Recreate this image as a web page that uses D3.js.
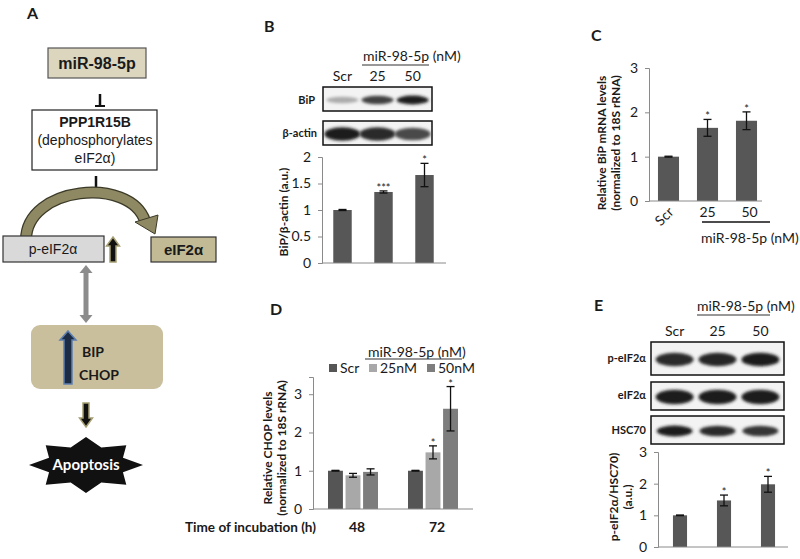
<!DOCTYPE html>
<html>
<head>
<meta charset="utf-8">
<script src="https://cdnjs.cloudflare.com/ajax/libs/d3/7.8.5/d3.min.js"></script>
<style>
  body { margin: 0; background: #fff; }
  svg { display: block; }
  text { font-family: Lato, "Open Sans", sans-serif; fill: #1a1a1a; }
  .arial { font-family: "Liberation Sans", Arial, sans-serif; }
</style>
</head>
<body>
<svg id="fig" width="800" height="559"></svg>
<script>
// ---- data ----
const doseLabels = ["Scr", "25", "50"];

// B: BiP protein / beta-actin
const bipProtein = [1.0, 1.34, 1.66];
const bipProteinErr = [0.01, 0.02, 0.22];
const bipProteinSig = ["", "***", "*"];
const bipProteinTicks = [0, 0.5, 1, 1.5, 2];

// C: BiP mRNA
const bipMrna = [1.0, 1.65, 1.81];
const bipMrnaErr = [0.01, 0.19, 0.20];
const bipMrnaSig = ["", "*", "*"];
const bipMrnaTicks = [0, 1, 2, 3];

// D: CHOP mRNA over time
const timePoints = ["48", "72"];
const chopSeries = ["Scr", "25nM", "50nM"];
const chop48 = [1.0, 0.88, 0.97];
const chop48Err = [0.01, 0.05, 0.08];
const chop48Sig = ["", "", ""];
const chop72 = [1.0, 1.48, 2.62];
const chop72Err = [0.01, 0.17, 0.58];
const chop72Sig = ["", "*", "*"];
const chopTicks = [0, 1, 2, 3];

// E: p-eIF2a / HSC70
const peif = [1.0, 1.47, 1.98];
const peifErr = [0.01, 0.17, 0.25];
const peifSig = ["", "*", "*"];
const peifTicks = [0, 1, 2, 3];

// blot band darkness per lane (0 = none, 1 = black)
const bipBands = [0.3, 0.8, 0.95];
const actinBands = [0.95, 0.9, 0.75];
const peifBands = [0.9, 0.92, 0.95];
const eifBands = [0.95, 0.95, 0.95];
const hscBands = [0.95, 0.9, 0.85];

const svg = d3.select("#fig");
const defs = svg.append("defs");
defs.append("filter").attr("id", "blur").attr("x", "-30%").attr("y", "-80%").attr("width", "160%").attr("height", "260%")
  .append("feGaussianBlur").attr("stdDeviation", 1.6);

const barFill = "#575757";
const axisCol = "#8a8a8a";

function panelLetter(x, y, t) {
  svg.append("text").attr("x", x).attr("y", y).attr("font-size", 16).attr("font-weight", "bold").text(t);
}

function yAxis(g, y, x0, ticks, fmt) {
  const ax = g.append("g").attr("transform", `translate(${x0},0)`)
    .call(d3.axisLeft(y).tickValues(ticks).tickSize(4).tickPadding(7).tickFormat(fmt || d3.format("")));
  ax.select(".domain").attr("stroke", axisCol);
  ax.selectAll(".tick line").attr("stroke", axisCol);
  ax.selectAll(".tick text").attr("font-size", 14).attr("fill", "#222").attr("font-family", "Lato, sans-serif");
  return ax;
}

function errorBar(g, cx, y, v, e, sig, cap) {
  const top = y(v + e), bot = y(Math.max(0, v - e));
  g.append("line").attr("x1", cx).attr("x2", cx).attr("y1", top).attr("y2", bot).attr("stroke", "#111").attr("stroke-width", 1.3);
  [top, bot].forEach(yy => g.append("line").attr("x1", cx - cap).attr("x2", cx + cap).attr("y1", yy).attr("y2", yy)
    .attr("stroke", "#111").attr("stroke-width", 1.3));
  if (sig) g.append("text").attr("x", cx).attr("y", top + 1).attr("text-anchor", "middle")
    .attr("font-size", 11).attr("fill", "#333").text(sig);
}

function barChart(o) {
  const g = svg.append("g");
  const x = d3.scaleBand().domain(o.labels).range([o.x0, o.x1]).paddingInner(o.pad).paddingOuter(o.pad / 2);
  const y = d3.scaleLinear().domain([0, o.max]).range([o.yb, o.yt]);
  g.selectAll("rect.bar").data(o.values).enter().append("rect")
    .attr("x", (d, i) => x(o.labels[i])).attr("width", x.bandwidth())
    .attr("y", d => y(d)).attr("height", d => y(0) - y(d)).attr("fill", barFill);
  o.values.forEach((v, i) => errorBar(g, x(o.labels[i]) + x.bandwidth() / 2, y, v, o.errs[i], o.sig[i], 4));
  yAxis(g, y, o.x0, o.ticks, o.fmt);
  g.append("line").attr("x1", o.x0).attr("x2", o.xEnd).attr("y1", y(0)).attr("y2", y(0)).attr("stroke", axisCol);
  return { g, x, y };
}

function blot(x0, x1, yt, yb, bands, bw, bh) {
  const lanes = d3.scaleBand().domain(doseLabels).range([x0, x1]).padding(0.1);
  svg.append("rect").attr("x", x0).attr("y", yt).attr("width", x1 - x0).attr("height", yb - yt)
    .attr("fill", "#f3f3f3").attr("stroke", "#111").attr("stroke-width", 1.5);
  bands.forEach((d, i) => {
    const c = Math.round(235 - d * 215);
    svg.append("ellipse").attr("cx", lanes(doseLabels[i]) + lanes.bandwidth() / 2).attr("cy", (yt + yb) / 2 + 1)
      .attr("rx", bw / 2).attr("ry", bh / 2 * (0.6 + 0.4 * d)).attr("fill", `rgb(${c},${c},${c})`).attr("filter", "url(#blur)");
  });
  return lanes;
}

function blotLabel(x, y, t) {
  svg.append("text").attr("x", x).attr("y", y).attr("text-anchor", "end").attr("font-size", 11)
    .attr("font-weight", "bold").text(t);
}

function rotLabel(x, y, lines, size) {
  const t = svg.append("text").attr("transform", `translate(${x},${y}) rotate(-90)`).attr("text-anchor", "middle")
    .attr("font-size", size).attr("font-weight", "bold");
  lines.forEach((l, i) => t.append("tspan").attr("x", 0).attr("dy", i === 0 ? 0 : size + 2).text(l));
}

// ---------------- Panel A : schematic ----------------
panelLetter(27, 19, "A");
const olive = "#8e8962", oliveDark = "#3b3a28";

svg.append("rect").attr("x", 48).attr("y", 48).attr("width", 98).attr("height", 30)
  .attr("fill", "#dcd6bf").attr("stroke", "#555").attr("stroke-width", 1.2);
svg.append("text").attr("class", "arial").attr("x", 97).attr("y", 69).attr("text-anchor", "middle")
  .attr("font-size", 16).attr("font-weight", "bold").text("miR-98-5p");

svg.append("line").attr("x1", 100).attr("x2", 100).attr("y1", 94).attr("y2", 107).attr("stroke", "#111").attr("stroke-width", 2.5);
svg.append("line").attr("x1", 95).attr("x2", 105).attr("y1", 106).attr("y2", 106).attr("stroke", "#111").attr("stroke-width", 2);

svg.append("rect").attr("x", 32).attr("y", 110).attr("width", 125).attr("height", 60)
  .attr("fill", "#fff").attr("stroke", "#222").attr("stroke-width", 1.2);
[["PPP1R15B", 127, "bold"], ["(dephosphorylates", 145, "normal"], ["eIF2α)", 163, "normal"]].forEach(d =>
  svg.append("text").attr("class", "arial").attr("x", 95).attr("y", d[1]).attr("text-anchor", "middle")
    .attr("font-size", 14).attr("font-weight", d[2]).text(d[0]));

svg.append("line").attr("x1", 96).attr("x2", 96).attr("y1", 176).attr("y2", 191).attr("stroke", "#111").attr("stroke-width", 2.5);

// curved arrow
const arc = "M26,240 C26,186 130,176 145,221";
svg.append("path").attr("d", arc).attr("fill", "none").attr("stroke", oliveDark).attr("stroke-width", 12);
svg.append("path").attr("d", arc).attr("fill", "none").attr("stroke", olive).attr("stroke-width", 9.5);
svg.append("polygon").attr("points", "135,222 158,215 155,234").attr("fill", olive).attr("stroke", oliveDark).attr("stroke-width", 1);

svg.append("rect").attr("x", 3).attr("y", 236).attr("width", 101).attr("height", 26)
  .attr("fill", "#d9d9d9").attr("stroke", "#333").attr("stroke-width", 1.2);
svg.append("text").attr("class", "arial").attr("x", 53).attr("y", 254).attr("text-anchor", "middle")
  .attr("font-size", 14).text("p-eIF2α");

svg.append("rect").attr("x", 151).attr("y", 237).attr("width", 65).attr("height", 25)
  .attr("fill", "#c2b995").attr("stroke", "#333").attr("stroke-width", 1.2);
svg.append("text").attr("class", "arial").attr("x", 183.5).attr("y", 255).attr("text-anchor", "middle")
  .attr("font-size", 15).attr("font-weight", "bold").text("eIF2α");

function blockArrow(cx, tip, tail, shaft, head, headLen, fill, stroke) {
  const dir = tail > tip ? 1 : -1;
  const hb = tip + dir * headLen;
  const p = [[cx, tip], [cx + head / 2, hb], [cx + shaft / 2, hb], [cx + shaft / 2, tail], [cx - shaft / 2, tail],
    [cx - shaft / 2, hb], [cx - head / 2, hb]];
  svg.append("polygon").attr("points", p.map(d => d.join(",")).join(" ")).attr("fill", fill)
    .attr("stroke", stroke).attr("stroke-width", 1.5);
}
blockArrow(113, 237, 262, 6, 13, 9, "#111", "#a59f72");

// gray double arrow
(function () {
  const cx = 86, t = 265, b = 323, s = 5, h = 13, hl = 8;
  const p = [[cx, t], [cx + h / 2, t + hl], [cx + s / 2, t + hl], [cx + s / 2, b - hl], [cx + h / 2, b - hl], [cx, b],
    [cx - h / 2, b - hl], [cx - s / 2, b - hl], [cx - s / 2, t + hl], [cx - h / 2, t + hl]];
  svg.append("polygon").attr("points", p.map(d => d.join(",")).join(" ")).attr("fill", "#8c8c8c");
})();

svg.append("rect").attr("x", 31).attr("y", 325).attr("width", 132).attr("height", 64).attr("rx", 9)
  .attr("fill", "#c9bf9c");
blockArrow(68, 331, 384, 8, 16, 9, "#1c2c45", "#5d7fb0");
svg.append("text").attr("x", 82).attr("y", 357).attr("font-size", 14).attr("font-weight", "bold").text("BIP");
svg.append("text").attr("x", 79).attr("y", 380).attr("font-size", 14).attr("font-weight", "bold").text("CHOP");

blockArrow(86, 427, 403, 6, 13, 9, "#111", "#a59f72");

// apoptosis star
(function () {
  const cx = 86, cy = 465, n = 8, pts = [];
  for (let i = 0; i < n * 2; i++) {
    const a = -Math.PI / 2 + i * Math.PI / n;
    const rx = i % 2 === 0 ? 57 : 40, ry = i % 2 === 0 ? 28 : 19;
    pts.push([cx + rx * Math.cos(a), cy + ry * Math.sin(a)]);
  }
  svg.append("polygon").attr("points", pts.map(d => d.join(",")).join(" ")).attr("fill", "#111");
  svg.append("text").attr("x", cx).attr("y", cy + 5).attr("text-anchor", "middle").attr("font-size", 15)
    .attr("font-weight", "bold").style("fill", "#fff").text("Apoptosis");
})();

// ---------------- Panel B ----------------
panelLetter(264, 32, "B");
svg.append("text").attr("x", 363).attr("y", 61).attr("font-size", 14).text("miR-98-5p (nM)");
svg.append("line").attr("x1", 362).attr("x2", 429).attr("y1", 65).attr("y2", 65).attr("stroke", "#333").attr("stroke-width", 1.2);
const lanesB = blot(323, 432, 87, 111, bipBands, 32, 9);
doseLabels.forEach(l => svg.append("text").attr("x", lanesB(l) + lanesB.bandwidth() / 2).attr("y", 81)
  .attr("text-anchor", "middle").attr("font-size", 14).text(l));
blot(323, 432, 121, 145, actinBands, 36, 14);
blotLabel(315, 104, "BiP");
blotLabel(317, 137, "β-actin");

barChart({ labels: doseLabels, values: bipProtein, errs: bipProteinErr, sig: bipProteinSig, ticks: bipProteinTicks,
  x0: 322, x1: 445, xEnd: 446, yb: 263, yt: 157, max: 2, pad: 0.55 });
rotLabel(288, 212, ["BiP/β-actin (a.u.)"], 12);

// ---------------- Panel C ----------------
panelLetter(591, 41, "C");
const c = barChart({ labels: doseLabels, values: bipMrna, errs: bipMrnaErr, sig: bipMrnaSig, ticks: bipMrnaTicks,
  x0: 649, x1: 766, xEnd: 762, yb: 201, yt: 68, max: 3, pad: 0.46 });
doseLabels.forEach((l, i) => {
  const cx = c.x(l) + c.x.bandwidth() / 2;
  if (i === 0) svg.append("text").attr("transform", `translate(${cx + 6},${213}) rotate(-45)`).attr("text-anchor", "end")
    .attr("font-size", 14).text(l);
  else svg.append("text").attr("x", cx + (i === 2 ? 3 : 0)).attr("y", 217).attr("text-anchor", "middle").attr("font-size", 14).text(l);
});
svg.append("line").attr("x1", 702).attr("x2", 770).attr("y1", 222).attr("y2", 222).attr("stroke", "#111").attr("stroke-width", 1.5);
svg.append("text").attr("x", 701).attr("y", 243).attr("font-size", 14).text("miR-98-5p (nM)");
rotLabel(606, 143, ["Relative BiP mRNA levels", "(normalized to 18S rRNA)"], 12);

// ---------------- Panel D ----------------
panelLetter(270, 315, "D");
(function () {
  const g = svg.append("g");
  const x0 = d3.scaleBand().domain(timePoints).range([313, 473]);
  const x1 = d3.scaleBand().domain(chopSeries).range([-25, 25]).paddingInner(0.15);
  const y = d3.scaleLinear().domain([0, 3.45]).range([509, 377]);
  const col = d3.scaleOrdinal().domain(chopSeries).range(["#555555", "#a8a8a8", "#7d7d7d"]);
  const groups = [[chop48, chop48Err, chop48Sig], [chop72, chop72Err, chop72Sig]];
  groups.forEach((gr, gi) => {
    const gc = x0(timePoints[gi]) + x0.bandwidth() / 2;
    g.selectAll(null).data(gr[0]).enter().append("rect")
      .attr("x", (d, i) => gc + x1(chopSeries[i])).attr("width", x1.bandwidth())
      .attr("y", d => y(d)).attr("height", d => y(0) - y(d)).attr("fill", (d, i) => col(chopSeries[i]));
    gr[0].forEach((v, i) => errorBar(g, gc + x1(chopSeries[i]) + x1.bandwidth() / 2, y, v, gr[1][i], gr[2][i], 4));
    svg.append("text").attr("x", gc + 4).attr("y", 532).attr("text-anchor", "middle").attr("font-size", 14)
      .attr("font-weight", "bold").text(timePoints[gi]);
  });
  yAxis(g, y, 313, chopTicks);
  g.append("line").attr("x1", 313).attr("x2", 473).attr("y1", y(0)).attr("y2", y(0)).attr("stroke", axisCol);
  // legend
  const lx = [329, 369, 427];
  chopSeries.forEach((s, i) => {
    svg.append("rect").attr("x", lx[i]).attr("y", 364).attr("width", 8).attr("height", 8).attr("fill", col(s));
    svg.append("text").attr("x", lx[i] + 11).attr("y", 373).attr("font-size", 14).text(s);
  });
})();
svg.append("text").attr("x", 368).attr("y", 357).attr("font-size", 14).text("miR-98-5p (nM)");
svg.append("line").attr("x1", 365).attr("x2", 462).attr("y1", 359).attr("y2", 359).attr("stroke", "#333").attr("stroke-width", 1.2);
svg.append("text").attr("x", 185).attr("y", 532).attr("font-size", 14).attr("font-weight", "bold")
  .attr("textLength", 131).attr("lengthAdjust", "spacingAndGlyphs").text("Time of incubation (h)");
rotLabel(272, 448, ["Relative CHOP levels", "(normalized to 18S rRNA)"], 12);

// ---------------- Panel E ----------------
panelLetter(594, 311, "E");
svg.append("text").attr("x", 697).attr("y", 311).attr("font-size", 14).text("miR-98-5p (nM)");
svg.append("line").attr("x1", 697).attr("x2", 770).attr("y1", 315).attr("y2", 315).attr("stroke", "#333").attr("stroke-width", 1.2);
const lanesE = blot(651, 784, 342, 375, peifBands, 38, 14);
doseLabels.forEach(l => svg.append("text").attr("x", lanesE(l) + lanesE.bandwidth() / 2).attr("y", 336)
  .attr("text-anchor", "middle").attr("font-size", 14).text(l));
blot(651, 784, 382, 410, eifBands, 38, 15);
blot(651, 784, 416, 444, hscBands, 36, 11);
blotLabel(646, 362, "p-eIF2α");
blotLabel(646, 399, "eIF2α");
blotLabel(646, 434, "HSC70");

barChart({ labels: doseLabels, values: peif, errs: peifErr, sig: peifSig, ticks: peifTicks,
  x0: 658, x1: 790, xEnd: 788, yb: 547, yt: 452, max: 3, pad: 0.68 });
rotLabel(618, 497, ["p-eIF2α/HSC70)", "(a.u.)"], 12);
</script>
</body>
</html>
